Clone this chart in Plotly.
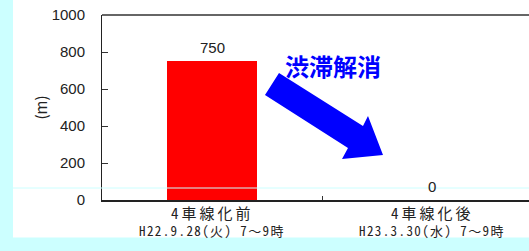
import plotly.graph_objects as go

categories = ["4車線化前", "4車線化後"]
dates = ["H22.9.28(火) 7～9時", "H23.3.30(水) 7～9時"]
values = [750, 0]
y_ticks = [0, 200, 400, 600, 800, 1000]

W, H = 529, 251
L, T, R, B = 102, 15, 0, 51
pw, ph = W - L - R, H - T - B


def px(x):
    return (x - L) / pw


def py(y):
    return (H - B - y) / ph


JP = "Noto Sans CJK JP"
MONO = "Noto Sans Mono CJK JP, Noto Sans CJK JP"
LAT = "Liberation Sans, Arial"
CYAN = "#ccffff"

fig = go.Figure()
fig.add_trace(go.Bar(
    x=[0, 1], y=values, width=0.405,
    marker=dict(color="#ff0000", line=dict(width=0)),
    hoverinfo="skip",
))

for i, v in enumerate(values):
    fig.add_annotation(x=i, y=v, text=str(v), showarrow=False, yanchor="bottom",
                       yshift=3, font=dict(family=LAT, size=15, color="#222"))

for i, (c, d) in enumerate(zip(categories, dates)):
    fig.add_annotation(x=i, y=py(224.5), xref="x", yref="paper",
                       text=f"<span style='letter-spacing:3px'>{c}</span>", showarrow=False,
                       font=dict(family=MONO, size=15, color="#222"))
    fig.add_annotation(x=i, y=py(242.3), xref="x", yref="paper",
                       text=f"<span style='letter-spacing:1.4px'>{d}</span>", showarrow=False,
                       font=dict(family=MONO, size=13, color="#222"))

fig.add_annotation(x=px(333), y=py(46), xref="paper", yref="paper", text="<b>渋滞解消</b>",
                   showarrow=False, font=dict(family=JP, size=24, color="#0000ff"))

shapes = []
shapes.append(dict(type="rect", xref="paper", yref="paper", x0=px(-3), x1=px(13),
                   y0=py(255), y1=py(-3), fillcolor=CYAN, line=dict(width=0), layer="above"))
shapes.append(dict(type="rect", xref="paper", yref="paper", x0=px(-3), x1=px(532),
                   y0=py(255), y1=py(237.5), fillcolor=CYAN, line=dict(width=0), layer="below"))
shapes.append(dict(type="line", xref="paper", yref="paper", x0=0, x1=1, y0=1, y1=1,
                   line=dict(color="#333", width=1.5)))
shapes.append(dict(type="line", xref="paper", yref="paper", x0=px(13), x1=px(532),
                   y0=py(188), y1=py(188), line=dict(color=CYAN, width=1)))
pts = [(265, 95), (279, 73), (363, 126), (368, 116), (383, 155), (342, 159), (348, 148)]
path = "M " + " L ".join(f"{px(x):.5f},{py(y):.5f}" for x, y in pts) + " Z"
shapes.append(dict(type="path", xref="paper", yref="paper", path=path,
                   fillcolor="#0000ff", line=dict(width=0)))

fig.update_layout(
    width=W, height=H,
    margin=dict(l=L, r=R, t=T, b=B, pad=0),
    paper_bgcolor="white", plot_bgcolor="rgba(0,0,0,0)",
    showlegend=False, shapes=shapes, bargap=0,
)
fig.update_xaxes(
    range=[-0.5, -0.5 + pw / 220], tickmode="array", tickvals=[0.5], ticktext=[""],
    ticks="inside", ticklen=4, tickcolor="#333", showgrid=False, zeroline=False,
    showline=True, linecolor="#222", linewidth=2, fixedrange=True,
)
fig.update_yaxes(
    range=[0, 1000], tickvals=y_ticks, ticks="inside", ticklen=6, tickcolor="#333",
    showgrid=False, zeroline=False, showline=True, linecolor="#222", linewidth=1,
    ticklabelstandoff=13, fixedrange=True,
    tickfont=dict(family=LAT, size=15, color="#222"),
    title=dict(text="(m)", standoff=0, font=dict(family=JP, size=15, color="#222")),
)

fig.write_html("out.html", config={"displayModeBar": False},
               post_script="document.documentElement.style.margin='0';document.body.style.margin='0';document.body.style.padding='0';")
